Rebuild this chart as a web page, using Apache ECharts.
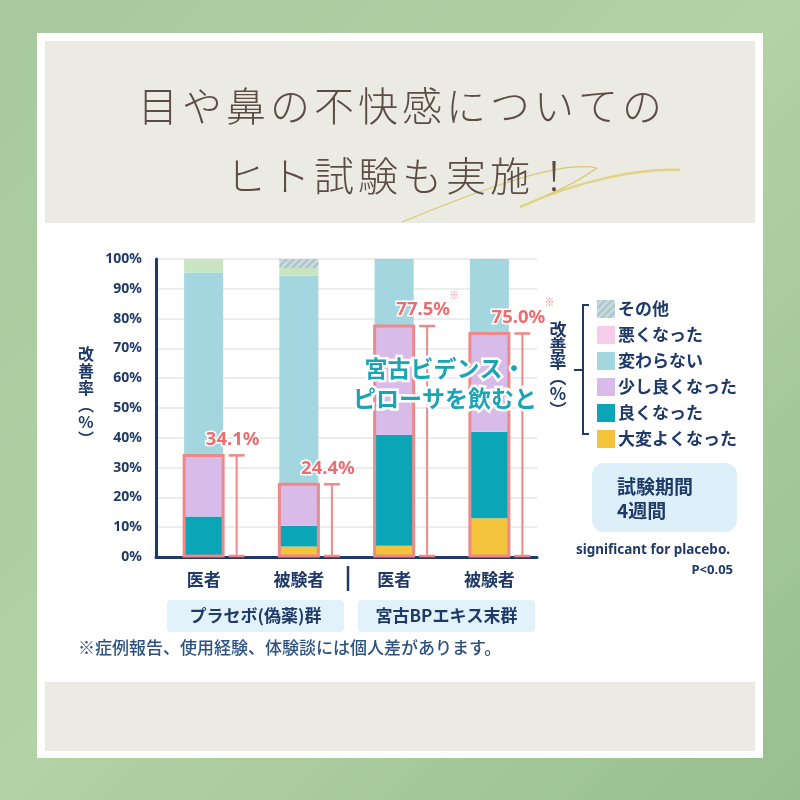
<!DOCTYPE html>
<html>
<head>
<meta charset="utf-8">
<script src="https://cdn.jsdelivr.net/npm/echarts@6/dist/echarts.min.js"></script>
<style>html,body{margin:0;padding:0;}#c{width:800px;height:800px;}</style>
</head>
<body>
<div id="c"></div>
<script>
// ---- data ----
const categories = ['医者', '被験者', '医者', '被験者'];
const seriesNames = ['大変よくなった', '良くなった', '少し良くなった', '変わらない', '悪くなった', 'その他'];
const veryGood = [0, 3.5, 3.8, 13];
const good = [13.6, 7, 37.2, 29];
const slightlyGood = [20.5, 13.9, 36.5, 33];
const unchanged = [61.4, 70, 22.5, 25];
const worse = [4.5, 2.6, 0, 0];
const other = [0, 3, 0, 0];
const improvement = [34.1, 24.4, 77.5, 75.0];
const sigMarks = ['', '', '※', '※'];
const legendOrder = ['その他', '悪くなった', '変わらない', '少し良くなった', '良くなった', '大変よくなった'];
const titleLine1 = '目や鼻の不快感についての';
const titleLine2 = 'ヒト試験も実施！';
const groupLabels = ['プラセボ(偽薬)群', '宮古BPエキス末群'];

// ---- styles ----
const NAVY = '#1f3a68';
const CORAL = '#ec6c70';
const JP = '"Noto Sans CJK JP", "Noto Sans", sans-serif';
const NUM = '"Noto Sans", "Noto Sans CJK JP", sans-serif';
const colors = {
  '大変よくなった': '#f3c33b',
  '良くなった': '#0aa6b8',
  '少し良くなった': '#d8bbe8',
  '変わらない': '#a3d6de',
  '悪くなった': '#c8e4c0',
  'その他': '#c9dade'
};
const seriesData = [veryGood, good, slightlyGood, unchanged, worse, other];

const chart = echarts.init(document.getElementById('c'), null, {renderer: 'canvas'});

const barSeries = seriesNames.map((name, k) => {
  const s = {
    name: name,
    type: 'bar',
    stack: 'total',
    barWidth: 39,
    data: seriesData[k],
    itemStyle: {color: colors[name]},
    z: 2
  };
  if (name === 'その他') {
    s.itemStyle.decal = {
      symbol: 'rect', symbolSize: 1, color: '#a8c3c9',
      dashArrayX: [1, 0], dashArrayY: [2, 3], rotation: -Math.PI / 4
    };
  }
  return s;
});

const boxSeries = {
  type: 'custom',
  name: 'improvement',
  z: 5,
  data: improvement.map((v, i) => [i, v]),
  renderItem: function (params, api) {
    const i = api.value(0);
    const v = api.value(1);
    const top = api.coord([i, v]);
    const base = api.coord([i, 0]);
    const cx = top[0];
    const bw = 39;
    const ix = cx + 33;
    const children = [
      {type: 'rect', shape: {x: cx - bw / 2, y: top[1], width: bw, height: base[1] - top[1] - 1},
        style: {fill: 'none', stroke: '#f08888', lineWidth: 3}},
      {type: 'line', shape: {x1: ix, y1: top[1], x2: ix, y2: base[1] - 1}, style: {stroke: '#f08888', lineWidth: 2}},
      {type: 'line', shape: {x1: ix - 8, y1: top[1], x2: ix + 8, y2: top[1]}, style: {stroke: '#f08888', lineWidth: 2.5}},
      {type: 'line', shape: {x1: ix - 8, y1: base[1] - 1, x2: ix + 8, y2: base[1] - 1}, style: {stroke: '#f08888', lineWidth: 2.5}},
      {type: 'text', x: cx + 29, y: top[1] - 16,
        style: {text: v.toFixed(1) + '%', fill: CORAL, font: 'bold 18.5px ' + NUM, align: 'center', verticalAlign: 'middle',
          stroke: '#fff', lineWidth: 3}}
    ];
    if (sigMarks[i]) {
      children.push({type: 'text', x: cx + 60, y: top[1] - 31,
        style: {text: sigMarks[i], fill: '#f08888', font: '10px ' + JP, align: 'center', verticalAlign: 'middle'}});
    }
    return {type: 'group', children: children};
  }
};

// graphics
const g = [];
g.push({type: 'rect', z: -20, shape: {x: 0, y: 0, width: 800, height: 800},
  style: {fill: new echarts.graphic.LinearGradient(0, 0, 1, 1, [
    {offset: 0, color: '#a7c99d'}, {offset: 0.5, color: '#b3d2a6'}, {offset: 1, color: '#98bf8e'}])}});
g.push({type: 'rect', z: -19, shape: {x: 37, y: 33, width: 726, height: 725}, style: {fill: '#ffffff'}});
g.push({type: 'rect', z: -18, shape: {x: 45, y: 41, width: 710, height: 182}, style: {fill: '#ebebe4'}});
g.push({type: 'rect', z: -18, shape: {x: 45, y: 682, width: 710, height: 69}, style: {fill: '#ebebe4'}});
// title, characters spaced
const step = 44;
titleLine1.split('').forEach((ch, i) => {
  g.push({type: 'text', z: 10, x: 400 - step * titleLine1.length / 2 + step * (i + 0.5), y: 106,
    style: {text: ch, fill: '#5c4d44', font: '300 40px ' + JP, align: 'center', verticalAlign: 'middle'}});
});
titleLine2.split('').forEach((ch, i) => {
  g.push({type: 'text', z: 10, x: 400 - step * titleLine2.length / 2 + step * (i + 0.5), y: 176,
    style: {text: ch, fill: '#5c4d44', font: '300 40px ' + JP, align: 'center', verticalAlign: 'middle'}});
});
// gold swoosh
g.push({type: 'bezierCurve', z: 9, shape: {x1: 402, y1: 222, cpx1: 480, cpy1: 190, cpx2: 560, cpy2: 160, x2: 597, y2: 168},
  style: {stroke: '#d8c76e', lineWidth: 1.2, fill: 'none'}});
g.push({type: 'bezierCurve', z: 9, shape: {x1: 597, y1: 168, cpx1: 580, cpy1: 180, cpx2: 560, cpy2: 190, x2: 545, y2: 196},
  style: {stroke: '#d8c76e', lineWidth: 1.2, fill: 'none'}});
g.push({type: 'bezierCurve', z: 9, shape: {x1: 520, y1: 207, cpx1: 580, cpy1: 180, cpx2: 640, cpy2: 168, x2: 680, y2: 170},
  style: {stroke: '#e0cf73', lineWidth: 2.5, fill: 'none', opacity: 0.85}});
// left y axis name (vertical)
g.push({type: 'text', z: 10, x: 86, y: 396,
  style: {text: '改\n善\n率\n︵\n%\n︶', fill: NAVY, font: 'bold 16px ' + JP, align: 'center', verticalAlign: 'middle', lineHeight: 17}});
// separator between groups
g.push({type: 'line', z: 10, shape: {x1: 348, y1: 566, x2: 348, y2: 591}, style: {stroke: NAVY, lineWidth: 2.5}});
// group label boxes
[[167, groupLabels[0]], [358, groupLabels[1]]].forEach(([x, t]) => {
  g.push({type: 'rect', z: 5, shape: {x: x, y: 600, width: 177, height: 32, r: 4}, style: {fill: '#e1f2fa'}});
  g.push({type: 'text', z: 10, x: x + 88.5, y: 616,
    style: {text: t, fill: NAVY, font: 'bold 17px ' + JP, align: 'center', verticalAlign: 'middle'}});
});
// note
g.push({type: 'text', z: 10, x: 78, y: 648,
  style: {text: '※症例報告、使用経験、体験談には個人差があります。', fill: '#2c5283', font: '500 17px ' + JP, align: 'left', verticalAlign: 'middle'}});
// right box
g.push({type: 'rect', z: 5, shape: {x: 592, y: 463, width: 145, height: 69, r: 12}, style: {fill: '#ddf0fa'}});
g.push({type: 'text', z: 10, x: 617, y: 487,
  style: {text: '試験期間', fill: NAVY, font: 'bold 19px ' + JP, align: 'left', verticalAlign: 'middle'}});
g.push({type: 'text', z: 10, x: 617, y: 511,
  style: {text: '4週間', fill: NAVY, font: 'bold 19px ' + JP, align: 'left', verticalAlign: 'middle'}});
g.push({type: 'text', z: 10, x: 653, y: 550,
  style: {text: 'significant for placebo.', fill: NAVY, font: 'bold 13.5px ' + NUM, align: 'center', verticalAlign: 'middle'}});
g.push({type: 'text', z: 10, x: 733, y: 570,
  style: {text: 'P<0.05', fill: NAVY, font: 'bold 13px ' + NUM, align: 'right', verticalAlign: 'middle'}});
// legend bracket
g.push({type: 'polyline', z: 10, shape: {points: [[589, 305], [583, 305], [583, 434], [589, 434]]}, style: {stroke: NAVY, lineWidth: 2, fill: 'none'}});
g.push({type: 'line', z: 10, shape: {x1: 574, y1: 370, x2: 583, y2: 370}, style: {stroke: NAVY, lineWidth: 2}});
g.push({type: 'text', z: 10, x: 558, y: 370,
  style: {text: '改\n善\n率\n︵\n%\n︶', fill: NAVY, font: 'bold 17px ' + JP, align: 'center', verticalAlign: 'middle', lineHeight: 16}});
// center annotation
g.push({type: 'text', z: 100, x: 445, y: 383,
  style: {text: '宮古ビデンス・\nピローサを飲むと', fill: '#1ba4b3', font: 'bold 23px ' + JP, align: 'center', verticalAlign: 'middle',
    lineHeight: 30, stroke: '#ffffff', lineWidth: 5}});

const legendData = legendOrder.map(n => {
  const d = {name: n};
  if (n === '悪くなった') d.itemStyle = {color: '#f5cdea'};
  return d;
});

const option = {
  animation: false,
  grid: {left: 156, right: 263, top: 259, bottom: 243},
  legend: {
    orient: 'vertical', left: 592, top: 295,
    data: legendData,
    icon: 'rect', itemWidth: 18, itemHeight: 18, itemGap: 8,
    selectedMode: false,
    textStyle: {color: NAVY, fontSize: 17, fontWeight: 'bold', fontFamily: JP, lineHeight: 18, padding: [0, 0, 0, -2]}
  },
  xAxis: {
    type: 'category', data: categories,
    axisTick: {show: false},
    axisLine: {lineStyle: {color: NAVY, width: 3}},
    axisLabel: {color: NAVY, fontSize: 17, fontWeight: 'bold', fontFamily: JP, margin: 14}
  },
  yAxis: {
    type: 'value', min: 0, max: 100, interval: 10,
    axisLine: {show: true, lineStyle: {color: NAVY, width: 3}},
    axisTick: {show: false},
    splitLine: {lineStyle: {color: '#e3e6ea', width: 1.5}},
    axisLabel: {formatter: '{value}%', color: NAVY, fontSize: 14, fontWeight: 'bold', fontFamily: NUM, margin: 14}
  },
  series: barSeries.concat([boxSeries]),
  graphic: {elements: g}
};
chart.setOption(option);
</script>
</body>
</html>
